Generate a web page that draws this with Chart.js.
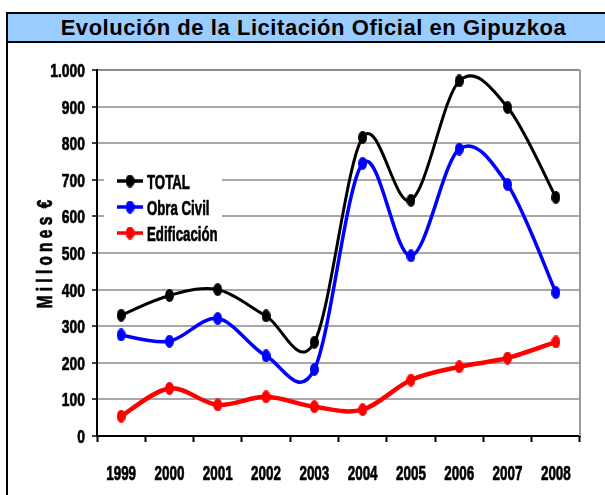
<!DOCTYPE html>
<html>
<head>
<meta charset="utf-8">
<script src="https://cdn.jsdelivr.net/npm/chart.js@4.4.1/dist/chart.umd.min.js"></script>
<style>
html,body{margin:0;padding:0;background:#fff;overflow:hidden;width:605px;height:495px;}
#frame{position:absolute;left:6px;top:12px;width:615px;height:520px;border:2px solid #000;box-sizing:border-box;}
#title{position:absolute;left:0;top:0;width:611px;height:27px;line-height:27px;background:#99CCFF;border-bottom:2px solid #000;
  font-family:'Liberation Sans',Arial,sans-serif;font-weight:bold;font-size:22px;letter-spacing:0.55px;text-align:center;color:#000;white-space:nowrap;}
#c{position:absolute;left:0;top:0;z-index:2;}
</style>
</head>
<body>
<div id="frame"><div id="title">Evolución de la Licitación Oficial en Gipuzkoa</div></div>
<canvas id="c" width="605" height="495"></canvas>
<script>
// ---- data ----
const years = ['1999','2000','2001','2002','2003','2004','2005','2006','2007','2008'];
const total = [330, 384, 400, 328, 256, 816, 644, 970, 898, 652];
const obraCivil = [276, 259, 321, 219, 182, 745, 492, 784, 687, 392];
const edificacion = [54, 130, 85, 107, 80, 72, 153, 189, 213, 257];
const seriesNames = ['TOTAL', 'Obra Civil', 'Edificación'];
const yAxisTitle = 'M i l l o n e s  €';
const yMin = 0, yMax = 1000, yStep = 100;

// ---- styling helpers ----
const FONT = "'Liberation Sans',Arial,sans-serif";
function ellipseMarker(color, w, h) {
  const c = document.createElement('canvas');
  c.width = w; c.height = h;
  const x = c.getContext('2d');
  x.fillStyle = color;
  x.beginPath();
  x.ellipse(w / 2, h / 2, w / 2, h / 2, 0, 0, Math.PI * 2);
  x.fill();
  return c;
}
const colors = ['#000000', '#0000FF', '#FF0000'];
const widths = [3, 3.5, 4.5];
const markers = colors.map(c => ellipseMarker(c, 9, 13));

function fmtThousands(v) { return String(v).replace(/\B(?=(\d{3})+(?!\d))/g, '.'); }

// narrow, heavy text (condensed horizontally)
function narrowText(ctx, text, x, y, size, sx, align, rot) {
  ctx.save();
  ctx.translate(x, y);
  if (rot) ctx.rotate(rot);
  ctx.scale(sx, 1);
  ctx.font = 'bold ' + size + 'px ' + FONT;
  ctx.fillStyle = '#000';
  ctx.strokeStyle = '#000';
  ctx.lineWidth = 0.7;
  ctx.lineJoin = 'round';
  ctx.textAlign = align;
  ctx.textBaseline = 'alphabetic';
  ctx.fillText(text, 0, 0);
  ctx.strokeText(text, 0, 0);
  ctx.restore();
}

// Excel-like smoothing: Bezier control points at P +/- (Pnext - Pprev)/6
const excelSmooth = {
  id: 'excelSmooth',
  beforeDatasetsDraw(chart) {
    chart.data.datasets.forEach((ds, i) => {
      const meta = chart.getDatasetMeta(i);
      const pts = meta.data;
      const n = pts.length;
      for (let k = 0; k < n; k++) {
        const p = pts[k];
        const prev = pts[Math.max(0, k - 1)];
        const next = pts[Math.min(n - 1, k + 1)];
        const dx = (next.x - prev.x) / 6, dy = (next.y - prev.y) / 6;
        p.cp1x = p.x - dx; p.cp1y = p.y - dy;
        p.cp2x = p.x + dx; p.cp2y = p.y + dy;
      }
      meta.dataset._pointsUpdated = true;
    });
  }
};

const frameLines = {
  id: 'frameLines',
  beforeDatasetsDraw(chart) {
    const {ctx, chartArea: a} = chart;
    ctx.save();
    ctx.strokeStyle = '#999999';
    ctx.lineWidth = 2;
    ctx.beginPath();
    ctx.moveTo(a.right, a.top);
    ctx.lineTo(a.right, a.bottom);
    ctx.stroke();
    ctx.restore();
  }
};

const axisLabels = {
  id: 'axisLabels',
  afterDraw(chart) {
    const ctx = chart.ctx;
    const xs = chart.scales.x, ys = chart.scales.y;
    xs.ticks.forEach((t, i) => {
      narrowText(ctx, xs.getLabelForValue(t.value), xs.getPixelForTick(i), xs.bottom - 15, 21, 0.64, 'center');
    });
    ys.ticks.forEach((t, i) => {
      narrowText(ctx, fmtThousands(t.value), ys.right - 12, ys.getPixelForTick(i) + 7, 19, 0.73, 'right');
    });
    narrowText(ctx, yAxisTitle, 52, (ys.top + ys.bottom) / 2 + 1, 22, 0.7, 'center', -Math.PI / 2);
  }
};

const insideLegend = {
  id: 'insideLegend',
  afterDatasetsDraw(chart) {
    const ctx = chart.ctx;
    ctx.save();
    ctx.fillStyle = '#ffffff';
    ctx.fillRect(104, 168, 118, 78);
    chart.data.datasets.forEach((ds, i) => {
      const y = 181 + i * 26;
      ctx.strokeStyle = ds.borderColor;
      ctx.lineWidth = 3.5;
      ctx.beginPath();
      ctx.moveTo(117, y);
      ctx.lineTo(143, y);
      ctx.stroke();
      ctx.drawImage(markers[i], 130 - 4.5, y - 6.5);
      narrowText(ctx, ds.label, 147, y + 7.5, 21, 0.63, 'left');
    });
    ctx.restore();
  }
};

const datasetsData = [total, obraCivil, edificacion];
new Chart(document.getElementById('c'), {
  type: 'line',
  data: {
    labels: years,
    datasets: datasetsData.map((d, i) => ({
      label: seriesNames[i],
      data: d,
      borderColor: colors[i],
      backgroundColor: colors[i],
      borderWidth: widths[i],
      tension: 0.4,
      pointStyle: markers[i],
      pointRadius: 6,
      order: 3 - i,
      fill: false
    }))
  },
  options: {
    responsive: false,
    animation: false,
    events: [],
    layout: {padding: {left: 0, top: 70, right: 25, bottom: 0}},
    plugins: {legend: {display: false}, title: {display: false}, tooltip: {enabled: false}},
    scales: {
      x: {
        offset: true,
        grid: {display: true, offset: true, drawOnChartArea: false, tickColor: '#000', tickLength: 6, tickWidth: 2},
        border: {color: '#000', width: 2},
        ticks: {display: false, autoSkip: false},
        afterFit(scale) { scale.height = 59; }
      },
      y: {
        min: yMin, max: yMax,
        grid: {color: ctx => ctx.tick && ctx.tick.value === yMax ? '#8c8c8c' : '#a8a8a8', lineWidth: 2, tickColor: '#000', tickLength: 5, tickWidth: 1.5},
        border: {color: '#000', width: 2},
        ticks: {stepSize: yStep, display: false},
        title: {display: false},
        afterFit(scale) { scale.width = 97; }
      }
    }
  },
  plugins: [excelSmooth, frameLines, insideLegend, axisLabels]
});
</script>
</body>
</html>
